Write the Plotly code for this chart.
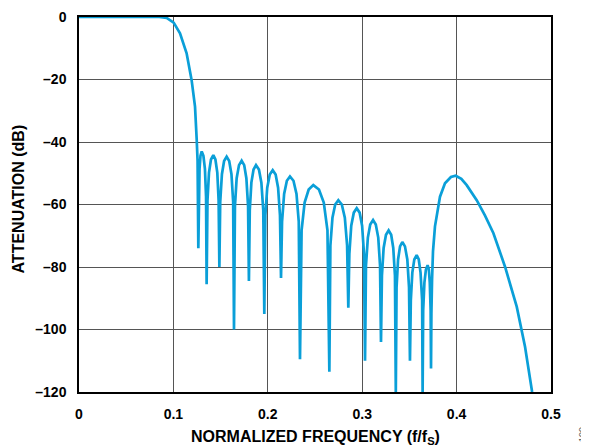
import plotly.graph_objects as go

# Normalized frequency (f/fS) and attenuation (dB)
freq = [
    0.0, 0.05, 0.085, 0.0929, 0.1003, 0.107, 0.114, 0.1193, 0.1229, 0.1247, 0.1256, 0.1264,
    0.1268, 0.1277, 0.1287, 0.1300, 0.1318, 0.1334, 0.1346, 0.1352,
    0.1361, 0.1377, 0.1398, 0.1423, 0.1445, 0.1465, 0.1479, 0.1487,
    0.1496, 0.1514, 0.1537, 0.1564, 0.1591, 0.1615, 0.1633, 0.1642,
    0.1652, 0.1670, 0.1695, 0.1723, 0.1750, 0.1773, 0.1791, 0.1800,
    0.1809, 0.1826, 0.1849, 0.1875, 0.1906, 0.1932, 0.1952, 0.1963,
    0.1974, 0.1994, 0.2021, 0.2052, 0.2083, 0.2109, 0.2129, 0.2140,
    0.2151, 0.2173, 0.2202, 0.2235, 0.2272, 0.2304, 0.2328, 0.2341,
    0.2358, 0.2390, 0.2433, 0.2482, 0.2542, 0.2593, 0.2632, 0.2652,
    0.2663, 0.2685, 0.2714, 0.2747, 0.2784, 0.2816, 0.2840, 0.2853,
    0.2864, 0.2884, 0.2911, 0.2942, 0.2973, 0.2999, 0.3019, 0.3030,
    0.3040, 0.3060, 0.3085, 0.3115, 0.3144, 0.3170, 0.3189, 0.3199,
    0.3209, 0.3227, 0.3252, 0.3280, 0.3307, 0.3329, 0.3347, 0.3356,
    0.3364, 0.3380, 0.3401, 0.3425, 0.3453, 0.3478, 0.3496, 0.3506,
    0.3515, 0.3531, 0.3552, 0.3577, 0.3599, 0.3618, 0.3635, 0.3640,
    0.3646, 0.3659, 0.3675, 0.3693, 0.3706, 0.3716, 0.3725, 0.3729,
    0.3733, 0.3740, 0.3750, 0.3771, 0.3800, 0.3824, 0.3877, 0.3940, 0.3990,
    0.4050, 0.4107, 0.4213, 0.4300, 0.4390, 0.4513, 0.4637, 0.4725, 0.4800,
]
atten = [
    0.0, 0.0, 0.0, -0.3, -1.8, -5.2, -11.6, -20.2, -28.7, -39.4, -46.0, -74.0,
    -57.5, -48.6, -44.4, -43.0, -44.4, -48.6, -57.5, -85.5,
    -58.7, -49.8, -45.6, -44.2, -45.6, -49.8, -58.7, -80.0,
    -59.2, -50.3, -46.1, -44.7, -46.1, -50.3, -59.2, -100.0,
    -60.5, -51.6, -47.4, -46.0, -47.4, -51.6, -60.5, -84.5,
    -61.9, -53.0, -48.8, -47.4, -48.8, -53.0, -61.9, -95.0,
    -63.5, -54.6, -50.4, -49.0, -50.4, -54.6, -63.5, -83.5,
    -65.5, -56.6, -52.4, -51.0, -52.4, -56.6, -65.5, -109.5,
    -68.3, -59.4, -55.2, -53.8, -55.2, -59.4, -68.3, -113.5,
    -73.1, -64.2, -60.0, -58.6, -60.0, -64.2, -73.1, -93.0,
    -75.7, -66.8, -62.6, -61.2, -62.6, -66.8, -75.7, -110.0,
    -79.5, -70.6, -66.4, -65.0, -66.4, -70.6, -79.5, -104.0,
    -82.8, -73.9, -69.7, -68.3, -69.7, -73.9, -82.8, -120.0,
    -86.5, -77.6, -73.4, -72.0, -73.4, -77.6, -86.5, -110.0,
    -90.7, -81.8, -77.6, -76.2, -77.6, -81.8, -90.7, -120.0,
    -93.9, -85.0, -80.8, -79.4, -80.8, -85.0, -93.9, -112.5,
    -95.0, -84.0, -75.0, -67.0, -61.0, -57.5, -53.2, -51.2, -50.8,
    -51.8, -53.8, -58.6, -63.5, -69.2, -79.9, -92.7, -105.5, -120.0,
]

x_ticks = [0, 0.1, 0.2, 0.3, 0.4, 0.5]
x_labels = ["0", "0.1", "0.2", "0.3", "0.4", "0.5"]
y_ticks = [0, -20, -40, -60, -80, -100, -120]
y_labels = ["0", "–20", "–40", "–60", "–80", "–100", "–120"]
x_title = "NORMALIZED FREQUENCY (f/f<sub>S</sub>)"
y_title = "ATTENUATION (dB)"
figure_id = "100"

FONT = "Arial, 'Liberation Sans', sans-serif"

fig = go.Figure()
fig.add_trace(go.Scatter(
    x=freq, y=atten, mode="lines",
    line=dict(color="#0a9fd8", width=2.7),
    hoverinfo="skip", showlegend=False,
))

axis_common = dict(
    showgrid=True, gridcolor="#555555", gridwidth=1,
    showline=True, linecolor="black", linewidth=1.5, mirror=True,
    zeroline=False, ticks="", ticklen=0,
    tickfont=dict(family=FONT, size=14, color="black"),
)

fig.update_layout(
    width=581, height=438,
    margin=dict(l=71, r=38, t=9, b=54, autoexpand=False),
    paper_bgcolor="white", plot_bgcolor="white",
    font=dict(family=FONT, color="black", size=14),
    xaxis=dict(range=[0, 0.5], tickvals=x_ticks,
               ticktext=["<b>%s</b>" % t for t in x_labels],
               ticklabelstandoff=8, automargin=False, **axis_common),
    yaxis=dict(range=[-120, 0], tickvals=y_ticks,
               ticktext=["<b>%s</b>" % t for t in y_labels],
               ticklabelstandoff=8, automargin=False, **axis_common),
)

fig.add_annotation(
    text="<b>%s</b>" % x_title, xref="paper", yref="paper", x=0.5, y=0,
    xanchor="center", yanchor="middle", yshift=-45, showarrow=False,
    font=dict(family=FONT, size=16, color="black"),
)
fig.add_annotation(
    text="<b>%s</b>" % y_title, xref="paper", yref="paper", x=0, y=0.5,
    xanchor="center", yanchor="middle", xshift=-61, yshift=5, textangle=-90,
    showarrow=False, font=dict(family=FONT, size=16, color="black"),
)
fig.add_annotation(
    text=figure_id, xref="paper", yref="paper", x=1.0, y=0,
    xanchor="center", yanchor="middle", xshift=31, yshift=-43, textangle=-90,
    showarrow=False, font=dict(family=FONT, size=9, color="#555555"),
)

fig.write_html("out.html")
